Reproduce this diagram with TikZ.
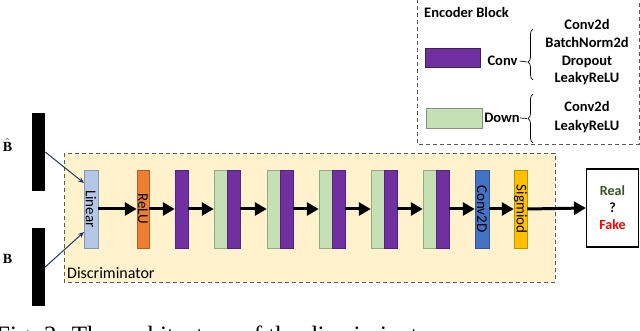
\documentclass[tikz,border=0pt]{standalone}
\usepackage{fontspec}
\newfontfamily\calfont{Carlito}
\newfontfamily\capfont{Liberation Serif}
\usetikzlibrary{arrows.meta,decorations.pathreplacing}
\definecolor{cpurple}{HTML}{7030A0}
\definecolor{cgreen}{HTML}{C5E0B4}
\definecolor{clin}{HTML}{B4C7E7}
\definecolor{crelu}{HTML}{ED7D31}
\definecolor{cconv}{HTML}{4472C4}
\definecolor{csig}{HTML}{FFC000}
\definecolor{cbg}{HTML}{FFF2CC}
\definecolor{creal}{HTML}{375623}
\definecolor{cfake}{HTML}{FF0000}
\definecolor{cnavy}{HTML}{1F3864}
\tikzset{
  blk/.style={fill=#1, draw=#1!75!black, line width=0.5pt, minimum width=13pt,
    minimum height=78pt, inner sep=0pt, font=\calfont\fontsize{15}{15}\selectfont},
  flow/.style={line width=3pt, -{Triangle[length=12pt,width=13pt]}},
  inflow/.style={cnavy, line width=1pt, -{Stealth[length=6pt,width=5pt]}},
  bar/.style={fill=black, minimum width=13pt, minimum height=78pt, inner sep=0pt},
  dbox/.style={draw=black!65, line width=0.8pt, dash pattern=on 4pt off 3pt},
  lgd/.style={font=\calfont\bfseries\fontsize{14.5}{17.7}\selectfont, inner sep=0pt},
  brc/.style={decorate, decoration={brace, amplitude=5pt, aspect=#1}, line width=0.7pt},
  inlab/.style={font=\capfont\bfseries\fontsize{14}{14}\selectfont, inner sep=0pt},
}
\begin{document}
\begin{tikzpicture}[x=1pt,y=-1pt]
\useasboundingbox (0,0) rectangle (640,331);
% caption (cut by the page edge)
\node[anchor=base west, inner sep=0pt, font=\capfont\fontsize{25}{25}\selectfont] (cap) at (-4,343) {Fig. 2: The architecture of the discriminator};
% discriminator frame
\draw[dbox, fill=cbg] (64,153) rectangle (555,282);
\node[anchor=west, inner sep=0pt, font=\calfont\fontsize{16}{16}\selectfont] (dlab) at (67,273) {Discriminator};
% inputs
\node[bar] (bh) at (38.5,152) {};
\node[bar] (b) at (38.5,267) {};
\node[inlab] (bhl) at (7.5,145) {$\hat{\hbox{\capfont\bfseries B}}$};
\node[inlab] (bl) at (7.5,259) {B};
% blocks
\node[blk=clin, minimum width=14pt] (lin) at (91,209) {\rotatebox{-90}{Linear}};
\node[blk=crelu, minimum width=12pt] (relu) at (143,209) {\rotatebox{-90}{ReLU}};
\node[blk=cpurple] (p0) at (181.5,209) {};
\node[blk=cgreen] (g1) at (220.5,209) {};
\node[blk=cpurple] (p1) at (233.5,209) {};
\node[blk=cgreen] (g2) at (273.5,209) {};
\node[blk=cpurple] (p2) at (286.5,209) {};
\node[blk=cgreen] (g3) at (325.5,209) {};
\node[blk=cpurple] (p3) at (338.5,209) {};
\node[blk=cgreen] (g4) at (377.5,209) {};
\node[blk=cpurple] (p4) at (390.5,209) {};
\node[blk=cgreen] (g5) at (429.5,209) {};
\node[blk=cpurple] (p5) at (442.5,209) {};
\node[blk=cconv, minimum width=14pt] (c2d) at (482,209) {\rotatebox{-90}{Conv2D}};
\node[blk=csig] (sig) at (520.5,209) {\rotatebox{-90}{Sigmiod}};
\node[draw=black, line width=1.2pt, minimum width=52pt, minimum height=78pt, inner sep=0pt,
  align=center, font=\calfont\bfseries\fontsize{14}{17}\selectfont] (out) at (612.5,208)
  {\textcolor{creal}{Real}\\?\\\textcolor{cfake}{Fake}};
% connectors
\coordinate (in1) at (84,183);
\coordinate (in2) at (84,232);
\draw[inflow] (bh.east) -- (in1);
\draw[inflow] (b.east) -- (in2);
\draw[flow] (lin.east) -- (relu.west);
\draw[flow] (relu.east) -- (p0.west);
\draw[flow] (p0.east) -- (g1.west);
\draw[flow] (p1.east) -- (g2.west);
\draw[flow] (p2.east) -- (g3.west);
\draw[flow] (p3.east) -- (g4.west);
\draw[flow] (p4.east) -- (g5.west);
\draw[flow] (p5.east) -- (c2d.west);
\draw[flow] (c2d.east) -- (sig.west);
\draw[flow] (sig.east) -- (out.west);
% legend
\draw[dbox] (417,-1) rectangle (639,144);
\node[lgd, anchor=west] (etitle) at (424,12) {Encoder Block};
\node[fill=cpurple, draw=cpurple!60!black, line width=0.6pt, minimum width=55pt, minimum height=19pt, inner sep=0pt] (lp) at (452.5,57.5) {};
\node[fill=cgreen, draw=black!45, line width=0.6pt, minimum width=56pt, minimum height=20pt, inner sep=0pt] (lg) at (454,118) {};
\node[lgd] (lconv) at (502.5,61) {Conv};
\node[lgd] (ldown) at (502,118) {Down};
\draw[brc=0.35] (533,80) -- (533,29);
\draw[brc=0.5] (533,143) -- (533,94);
\coordinate (t1) at (527,62);
\coordinate (t2) at (527,118.5);
\draw[line width=0.7pt] (lconv.east) ++(2,0) -- (t1);
\draw[line width=0.7pt] (ldown.east) -- (t2);
\node[lgd, align=center] (lc) at (587,52.5) {Conv2d\\BatchNorm2d\\Dropout\\LeakyReLU};
\node[lgd, align=center, font=\calfont\bfseries\fontsize{14.5}{19}\selectfont] (ld) at (587,117.5) {Conv2d\\LeakyReLU};
\end{tikzpicture}
\end{document}
